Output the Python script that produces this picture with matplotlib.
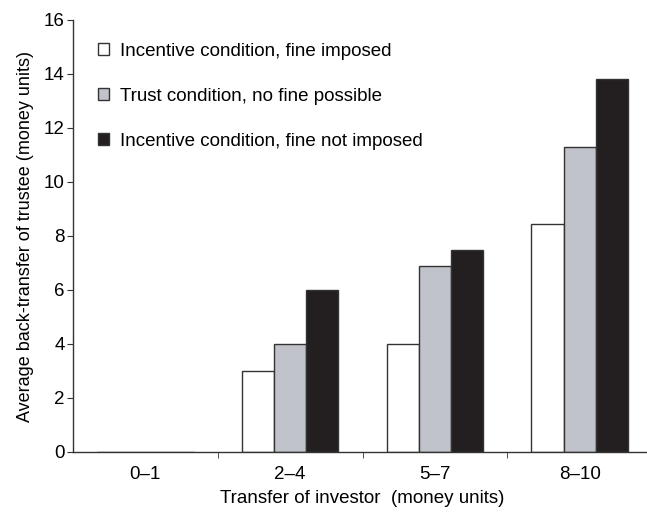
import matplotlib
matplotlib.use("Agg")
import matplotlib.pyplot as plt
import numpy as np

categories = ["0–1", "2–4", "5–7", "8–10"]
fine_imposed = [0, 3.0, 4.0, 8.45]
trust_no_fine = [0, 4.0, 6.9, 11.3]
fine_not_imposed = [0, 6.0, 7.5, 13.8]
labels = ["Incentive condition, fine imposed",
          "Trust condition, no fine possible",
          "Incentive condition, fine not imposed"]

plt.rcParams['font.family'] = ['Liberation Sans', 'DejaVu Sans']
fs = 13.5

fig = plt.figure(figsize=(6.47, 5.14), dpi=100)
ax = fig.add_axes([73 / 647, 62 / 514, 579 / 647, 432 / 514])

x = np.arange(len(categories))
w = 0.222
edge = "#333333"
ax.bar(x - w, fine_imposed, w, color="white", edgecolor=edge, linewidth=1, label=labels[0])
ax.bar(x, trust_no_fine, w, color="#c1c3ca", edgecolor=edge, linewidth=1, label=labels[1])
ax.bar(x + w, fine_not_imposed, w, color="#231f20", edgecolor=edge, linewidth=1, label=labels[2])

ax.set_xlim(-0.5, 3.5)
ax.set_ylim(0, 16)
ax.set_yticks(range(0, 17, 2))
ax.set_xticks(x)
ax.set_xticklabels(categories)
ax.set_xticks([0.5, 1.5, 2.5], minor=True)
ax.tick_params(axis="x", which="major", length=0, pad=10, labelsize=fs)
ax.tick_params(axis="x", which="minor", length=4, direction="out", color=edge)
ax.tick_params(axis="y", length=4, direction="out", color=edge, labelsize=fs, pad=2)

for s in ["top", "right"]:
    ax.spines[s].set_visible(False)
for s in ["left", "bottom"]:
    ax.spines[s].set_color(edge)
    ax.spines[s].set_linewidth(1)

ax.set_xlabel("Transfer of investor  (money units)", fontsize=fs, labelpad=5)
ax.set_ylabel("Average back-transfer of trustee (money units)", fontsize=13, labelpad=7)

ax.legend(loc="upper left", bbox_to_anchor=(0.03, 0.965), frameon=False,
          fontsize=fs, handlelength=0.6, handleheight=0.6, handletextpad=0.6,
          labelspacing=1.5, borderaxespad=0)

fig.savefig("out.png", dpi=100)
